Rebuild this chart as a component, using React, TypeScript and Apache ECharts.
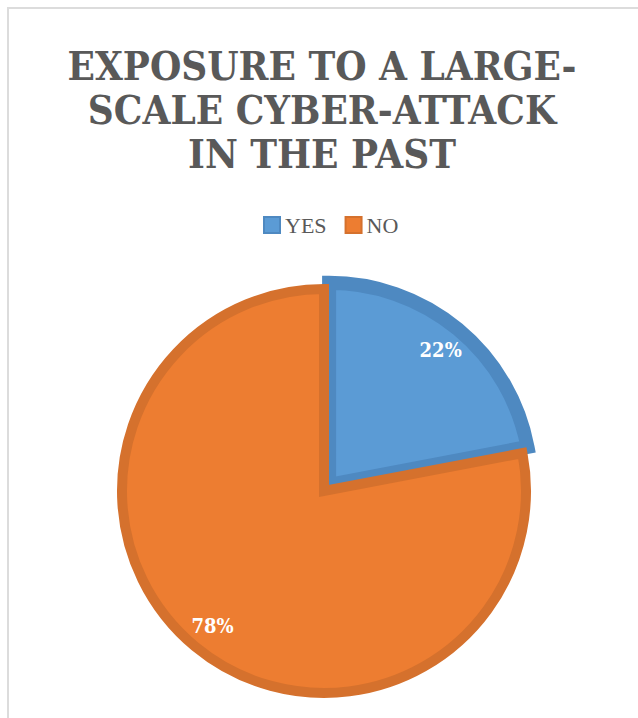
import React, { useEffect, useRef } from 'react';
import * as echarts from 'echarts';

const categories = ['YES', 'NO'];
const values = [22, 78];
const fillColors = ['#5B9BD5', '#ED7D31'];
const borderColors = ['#4E89C1', '#D5712D'];
const borderWidths = [14, 10];
const explodedFlags = [true, false];
const titleLines = ['EXPOSURE TO A LARGE-', 'SCALE CYBER-ATTACK', 'IN THE PAST'];

const SERIF = "'Liberation Serif', 'DejaVu Serif', serif";
const BOLD_SERIF = "'DejaVu Serif Condensed', 'DejaVu Serif', serif";

export default function App() {
  const ref = useRef<HTMLDivElement>(null);

  useEffect(() => {
    if (!ref.current) return;
    const chart = echarts.init(ref.current, undefined, { renderer: 'svg' });

    const center = [324, 491];
    const radius = 202;
    const offset = 8;

    const mainData = categories.map((name, i) => ({
      name,
      value: values[i],
      selected: explodedFlags[i],
      itemStyle: { color: fillColors[i], borderColor: borderColors[i], borderWidth: borderWidths[i] },
      select: {
        itemStyle: { color: fillColors[i], borderColor: borderColors[i], borderWidth: borderWidths[i] },
      },
    }));

    const labelData = categories.map((name, i) => ({
      name,
      value: values[i],
      selected: explodedFlags[i],
    }));

    chart.setOption({
      animation: false,
      backgroundColor: '#ffffff',
      legend: {
        left: 258,
        top: 209,
        icon: 'rect',
        itemWidth: 16,
        itemHeight: 16,
        itemGap: 18,
        selectedMode: false,
        textStyle: { fontFamily: SERIF, fontSize: 22, color: '#595959' },
        data: categories.map((name, i) => ({ name, itemStyle: { color: fillColors[i] } })),
      },
      graphic: [
        {
          type: 'rect',
          shape: { x: 8, y: 8, width: 1000, height: 1000 },
          style: { fill: 'none', stroke: '#dcdcdc', lineWidth: 2 },
          silent: true,
        },
        {
          type: 'text',
          x: 322,
          y: 43,
          silent: true,
          style: {
            text: titleLines.join('\n'),
            fontFamily: BOLD_SERIF,
            fontWeight: 'bold',
            fontSize: 40,
            lineHeight: 44,
            fill: '#595959',
            align: 'center',
            verticalAlign: 'top',
          },
        },
      ],
      series: [
        {
          type: 'pie',
          center,
          radius,
          startAngle: 90,
          clockwise: true,
          selectedMode: 'single',
          selectedOffset: offset,
          silent: true,
          itemStyle: { borderJoin: 'miter' },
          label: { show: false },
          labelLine: { show: false },
          emphasis: { disabled: true },
          data: mainData,
        },
        {
          type: 'pie',
          center,
          radius: 344,
          startAngle: 90,
          clockwise: true,
          selectedMode: 'single',
          selectedOffset: offset,
          silent: true,
          itemStyle: { color: 'rgba(0,0,0,0)', borderWidth: 0 },
          select: { itemStyle: { color: 'rgba(0,0,0,0)', borderWidth: 0 } },
          emphasis: { disabled: true },
          label: {
            show: true,
            position: 'inside',
            formatter: '{d}%',
            fontFamily: BOLD_SERIF,
            fontWeight: 'bold',
            fontSize: 20,
            color: '#ffffff',
          },
          labelLine: { show: false },
          data: labelData,
        },
      ],
    });

    return () => chart.dispose();
  }, []);

  return (
    <div
      ref={ref}
      style={{ position: 'absolute', left: 0, top: 0, width: 638, height: 718, background: '#fff' }}
    />
  );
}
